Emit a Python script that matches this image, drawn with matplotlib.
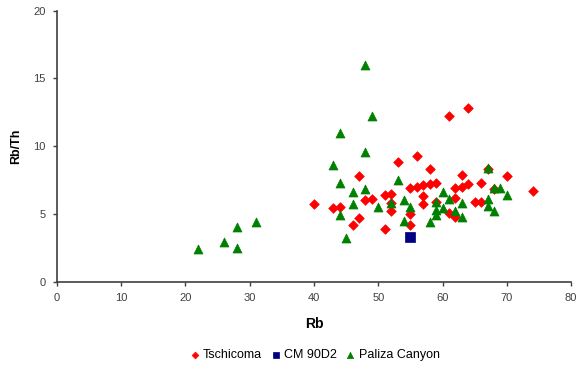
import matplotlib
matplotlib.use("Agg")
import matplotlib.pyplot as plt

plt.rcParams['font.family'] = ['Liberation Sans', 'DejaVu Sans']

# Tschicoma samples
tsch_rb = [40, 43, 44, 46, 47, 47, 48, 49, 51, 51, 52, 52, 52, 53, 55, 55, 55,
           56, 56, 57, 57, 57, 58, 58, 59, 59, 61, 61, 62, 62, 62, 63, 63, 64,
           64, 65, 66, 66, 67, 68, 70, 74]
tsch_ratio = [5.7, 5.4, 5.5, 4.2, 4.7, 7.8, 6.0, 6.1, 6.4, 3.9, 6.5, 5.8, 5.2,
              8.8, 6.9, 5.0, 4.2, 9.3, 7.0, 7.1, 6.3, 5.7, 8.3, 7.2, 7.3, 5.9,
              12.2, 5.1, 6.9, 6.2, 4.8, 7.9, 7.0, 12.8, 7.2, 5.9, 7.3, 5.9, 8.3,
              6.8, 7.8, 6.7]

# CM 90D2 sample
cm_rb = [55]
cm_ratio = [3.3]

# Paliza Canyon samples
pal_rb = [22, 26, 28, 28, 31, 43, 44, 44, 44, 45, 46, 46, 48, 48, 48, 49, 50,
          52, 53, 54, 54, 55, 58, 59, 59, 59, 60, 60, 61, 62, 63, 63, 67, 67,
          67, 68, 68, 69, 70]
pal_ratio = [2.4, 2.9, 4.0, 2.5, 4.4, 8.6, 11.0, 7.3, 4.9, 3.2, 6.6, 5.7, 16.0,
             9.6, 6.8, 12.2, 5.5, 5.8, 7.5, 6.0, 4.5, 5.5, 4.4, 5.9, 5.3, 4.9,
             6.6, 5.4, 6.1, 5.2, 5.8, 4.8, 8.4, 6.1, 5.6, 6.9, 5.2, 6.9, 6.4]

x_ticks = [0, 10, 20, 30, 40, 50, 60, 70, 80]
y_ticks = [0, 5, 10, 15, 20]

fig = plt.figure(figsize=(5.87, 3.70), dpi=100)
ax = fig.add_axes([0.097, 0.239, 0.876, 0.732])

ax.scatter(tsch_rb, tsch_ratio, marker='D', s=24, color='#FF0000',
           edgecolors='#FF0000', linewidths=0.5, label='Tschicoma', zorder=3)
ax.scatter(cm_rb, cm_ratio, marker='s', s=42, color='#000080',
           edgecolors='#000080', linewidths=0.5, label='CM 90D2', zorder=3)
ax.scatter(pal_rb, pal_ratio, marker='^', s=42, color='#008000',
           edgecolors='#008000', linewidths=0.5, label='Paliza Canyon', zorder=4)

ax.set_xlim(0, 80)
ax.set_ylim(0, 20)
ax.set_xticks(x_ticks)
ax.set_yticks(y_ticks)
ax.tick_params(axis='both', direction='out', length=3, width=1,
               color='#404040', labelsize=8, labelcolor='#404040', pad=5)

for side in ('top', 'right'):
    ax.spines[side].set_visible(False)
for side in ('left', 'bottom'):
    ax.spines[side].set_color('#404040')
    ax.spines[side].set_linewidth(1.2)

ax.set_xlabel('Rb', fontsize=10, fontweight='bold', labelpad=10)
ax.set_ylabel('Rb/Th', fontsize=9, fontweight='bold', labelpad=8)

fig.legend(loc='center', bbox_to_anchor=(0.535, 0.04), ncol=3, frameon=False,
           fontsize=9, handletextpad=0.15, columnspacing=0.6, markerscale=0.7,
           handlelength=1.0)

fig.savefig('out.png', dpi=100)
